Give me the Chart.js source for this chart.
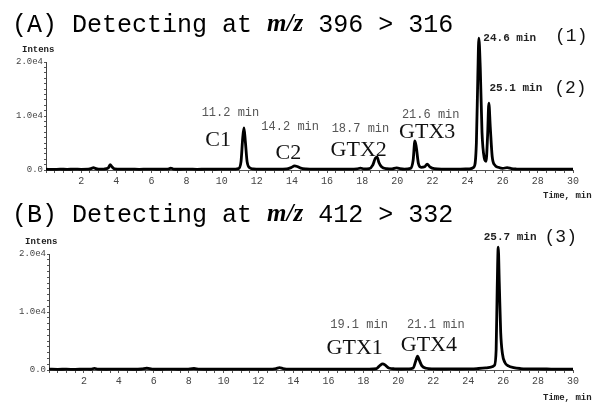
<!DOCTYPE html>
<html>
<head>
<meta charset="utf-8">
<script src="https://cdn.jsdelivr.net/npm/chart.js@4.4.1/dist/chart.umd.min.js"></script>
<style>
  body { margin: 0; background: #fff; width: 594px; height: 402px; position: relative; overflow: hidden; }
  canvas { position: absolute; left: 0; }
  #chartA { top: 0; }
  #chartB { top: 195px; }
</style>
</head>
<body>
<canvas id="chartA" width="594" height="200"></canvas>
<canvas id="chartB" width="594" height="207"></canvas>
<script>
// (A) m/z 396 > 316
const timeA = [0, 0.4, 0.8, 1.2, 1.6, 2.0, 2.4, 2.6, 2.7, 2.8, 3.0, 3.3, 3.55, 3.65, 3.75, 3.9, 4.3, 4.8, 5.3, 5.8,
  6.3, 6.8, 7.0, 7.1, 7.25, 7.6, 8.1, 8.6, 9.1, 9.6, 10.1, 10.6, 10.95, 11.1, 11.2, 11.27, 11.35, 11.45, 11.6, 11.8,
  12.2, 12.7, 13.2, 13.7, 13.95, 14.15, 14.3, 14.5, 14.8, 15.3, 15.8, 16.3, 16.8, 17.3, 17.7, 17.9, 18.1, 18.4, 18.6, 18.75,
  18.85, 18.95, 19.1, 19.4, 19.7, 19.95, 20.1, 20.4, 20.75, 20.9, 21.0, 21.08, 21.2, 21.35, 21.55, 21.7, 21.85, 22.1, 22.6, 23.1,
  23.6, 24.1, 24.35, 24.5, 24.58, 24.64, 24.72, 24.82, 24.95, 25.05, 25.14, 25.21, 25.29, 25.4, 25.55, 25.75, 26.0, 26.25, 26.5, 26.8,
  27.3, 27.8, 28.3, 28.8, 29.3, 29.7, 30];
const intensA = [150, 100, 150, 120, 160, 130, 150, 300, 450, 300, 150, 180, 400, 1000, 600, 200, 150, 170, 130, 160,
  140, 150, 200, 350, 180, 140, 160, 130, 150, 140, 160, 150, 250, 1500, 6000, 7800, 5200, 1500, 400, 200,
  150, 160, 150, 200, 450, 750, 650, 350, 200, 150, 170, 150, 160, 150, 200, 350, 200, 250, 900, 2200,
  2400, 1400, 600, 250, 200, 400, 300, 180, 300, 1800, 5400, 4200, 1200, 500, 600, 1100, 600, 250, 170, 150,
  160, 200, 500, 5000, 17000, 24400, 19000, 7000, 2200, 1600, 6500, 12400, 8000, 2500, 900, 500, 300, 450, 250, 180,
  150, 160, 140, 150, 140, 150, 150];

// (B) m/z 412 > 332
const timeB = [0, 0.5, 1.0, 1.5, 2.0, 2.4, 2.6, 2.8, 3.3, 3.8, 4.3, 4.8, 5.3, 5.6, 5.9, 6.4, 6.9, 7.4, 7.9, 8.3,
  8.6, 9.1, 9.6, 10.1, 10.6, 11.1, 11.6, 12.1, 12.6, 13.0, 13.2, 13.4, 13.8, 14.3, 14.8, 15.3, 15.8, 16.3, 16.8, 17.3,
  17.8, 18.3, 18.75, 18.95, 19.1, 19.25, 19.45, 19.8, 20.2, 20.6, 20.85, 21.0, 21.1, 21.2, 21.35, 21.6, 22.0, 22.5, 23.0, 23.5,
  24.0, 24.5, 25.0, 25.3, 25.5, 25.6, 25.66, 25.72, 25.78, 25.86, 25.96, 26.1, 26.3, 26.6, 27.0, 27.5, 28.0, 28.5, 29.0, 29.5, 30];
const intensB = [150, 120, 140, 110, 150, 130, 280, 150, 130, 160, 140, 130, 170, 300, 160, 130, 150, 130, 150, 260,
  140, 130, 150, 130, 140, 130, 150, 130, 140, 250, 400, 250, 150, 140, 150, 130, 150, 140, 150, 140,
  150, 160, 250, 800, 1050, 850, 350, 200, 170, 200, 350, 1600, 2400, 1700, 700, 300, 200, 170, 180, 170,
  200, 250, 350, 500, 800, 3500, 14000, 21200, 15000, 6500, 2800, 1300, 700, 400, 250, 200, 180, 170, 160, 150, 150];

const yTickLabels = { 0: '0.0', 10000: '1.0e4', 20000: '2.0e4' };

// peak annotations, placed in data coordinates (time, intensity)
const peaksA = [
  { text: '11.2 min', t: 10.5, v: 10500, kind: 'rt' },
  { text: 'C1', t: 9.8, v: 5600, kind: 'name' },
  { text: '14.2 min', t: 13.9, v: 8000, kind: 'rt' },
  { text: 'C2', t: 13.8, v: 3100, kind: 'name' },
  { text: '18.7 min', t: 17.9, v: 7600, kind: 'rt' },
  { text: 'GTX2', t: 17.8, v: 3700, kind: 'name' },
  { text: '21.6 min', t: 21.9, v: 10200, kind: 'rt' },
  { text: 'GTX3', t: 21.7, v: 7000, kind: 'name' },
  { text: '24.6 min', t: 26.4, v: 24400, kind: 'rtb' },
  { text: '(1)', t: 29.9, v: 24800, kind: 'num' },
  { text: '25.1 min', t: 26.75, v: 15200, kind: 'rtb' },
  { text: '(2)', t: 29.85, v: 15200, kind: 'num' }
];
const peaksB = [
  { text: '25.7 min', t: 26.4, v: 22900, kind: 'rtb' },
  { text: '(3)', t: 29.3, v: 22900, kind: 'num' },
  { text: '19.1 min', t: 17.75, v: 7760, kind: 'rt' },
  { text: 'GTX1', t: 17.5, v: 3800, kind: 'name' },
  { text: '21.1 min', t: 22.15, v: 7760, kind: 'rt' },
  { text: 'GTX4', t: 21.75, v: 4300, kind: 'name' }
];

const fonts = {
  rt: '12px "Liberation Mono"',
  rtb: 'bold 11px "Liberation Mono"',
  name: '22px "Liberation Serif"',
  num: '18px "Liberation Mono"'
};
const colors = { rt: '#555', rtb: '#222', name: '#111', num: '#111' };

const annotate = {
  id: 'annotate',
  afterDraw(chart, args, opts) {
    const ctx = chart.ctx;
    const xs = chart.scales.x, ys = chart.scales.y, area = chart.chartArea;
    ctx.save();
    ctx.textBaseline = 'middle';

    // title: "(X) Detecting at m/z a > b"
    let x = 12;
    ctx.fillStyle = '#000';
    ctx.textAlign = 'left';
    ctx.font = '25px "Liberation Mono"';
    ctx.fillText(opts.head, x, opts.titleY);
    x += ctx.measureText(opts.head).width;
    ctx.font = 'italic bold 25px "Liberation Serif"';
    ctx.fillText('m/z', x, opts.titleY);
    x += ctx.measureText('m/z').width;
    ctx.font = '25px "Liberation Mono"';
    ctx.fillText(opts.tail, x, opts.titleY);

    opts.peaks.forEach(p => {
      ctx.font = fonts[p.kind];
      ctx.fillStyle = colors[p.kind];
      ctx.textAlign = 'center';
      ctx.fillText(p.text, xs.getPixelForValue(p.t), ys.getPixelForValue(p.v));
    });

    ctx.fillStyle = '#222';
    ctx.textAlign = 'left';
    ctx.font = 'bold 9px "Liberation Mono"';
    ctx.fillText('Intens', area.left - 24, area.top - 12);
    ctx.fillText('Time, min', area.right - 30, area.bottom + opts.timeDy);
    ctx.restore();
  }
};

function makeChart(id, times, values, pad, extra) {
  new Chart(document.getElementById(id), {
    type: 'line',
    data: {
      datasets: [{
        data: times.map((t, i) => ({ x: t, y: values[i] })),
        borderColor: '#000',
        borderWidth: 2.8,
        pointRadius: 0,
        cubicInterpolationMode: 'monotone',
        clip: false
      }]
    },
    options: {
      responsive: false,
      animation: false,
      layout: { padding: pad },
      plugins: {
        legend: { display: false },
        tooltip: { enabled: false },
        annotate: extra
      },
      scales: {
        x: {
          type: 'linear',
          min: 0,
          max: 30,
          afterFit: s => { s.height = 20; },
          border: { display: true, color: '#555', width: 1 },
          grid: { display: true, drawOnChartArea: false, tickLength: 3, color: '#555' },
          ticks: {
            stepSize: 0.5,
            autoSkip: false,
            maxRotation: 0,
            padding: 2,
            color: '#444',
            font: { family: 'Liberation Mono', size: 10 },
            callback: v => (v > 0 && v % 2 === 0) ? String(v) : ''
          }
        },
        y: {
          min: 0,
          max: 20000,
          afterFit: s => { s.width = 40; },
          border: { display: true, color: '#444', width: 1 },
          grid: { display: true, drawOnChartArea: false, tickLength: 2, color: '#555' },
          ticks: {
            stepSize: 1000,
            autoSkip: false,
            padding: 1,
            color: '#444',
            font: { family: 'Liberation Mono', size: 9 },
            callback: v => yTickLabels[v] !== undefined ? yTickLabels[v] : ''
          }
        }
      }
    },
    plugins: [annotate]
  });
}

makeChart('chartA', timeA, intensA, { top: 62, bottom: 10, left: 6, right: 21 },
  { head: '(A) Detecting at ', tail: ' 396 > 316', titleY: 25, timeDy: 26, peaks: peaksA });
makeChart('chartB', timeB, intensB, { top: 59, bottom: 12, left: 9, right: 21 },
  { head: '(B) Detecting at ', tail: ' 412 > 332', titleY: 20, timeDy: 28, peaks: peaksB });
</script>
</body>
</html>
